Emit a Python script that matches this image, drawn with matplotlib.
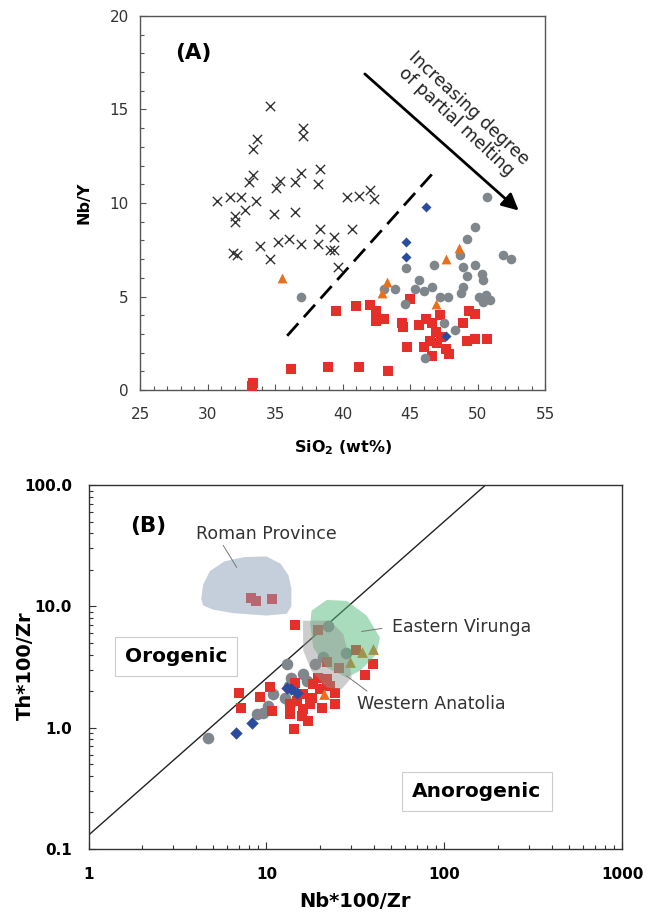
import matplotlib
matplotlib.use('Agg')
import matplotlib.pyplot as plt
from matplotlib.ticker import MultipleLocator, LogLocator, NullFormatter
import numpy as np

# ---------------- panel A data (SiO2 vs Nb/Y) ----------------
cross_sio2 = [34.6, 37.1, 37.1, 33.7, 33.4, 30.7, 31.7, 32.5, 32.0, 32.8, 33.6, 33.1, 35.1, 35.4,
              36.5, 36.9, 38.2, 38.3, 34.9, 36.5, 40.3, 41.2, 42.0, 42.3, 38.3, 39.4, 40.7, 33.9,
              35.2, 36.0, 36.9, 38.2, 39.1, 39.4, 31.9, 32.2, 34.6, 39.7, 32.0, 33.4]
cross_nby = [15.2, 14.0, 13.6, 13.4, 12.9, 10.1, 10.3, 10.3, 9.3, 9.6, 10.1, 11.1, 10.8, 11.2,
             11.1, 11.6, 11.0, 11.8, 9.4, 9.5, 10.3, 10.4, 10.7, 10.2, 8.6, 8.2, 8.6, 7.7,
             7.9, 8.1, 7.8, 7.8, 7.5, 7.5, 7.3, 7.2, 7.0, 6.6, 9.0, 11.5]

grey_sio2 = [50.7, 49.8, 49.2, 51.9, 52.5, 48.7, 46.8, 49.8, 48.9, 49.2, 50.3, 50.4, 44.7, 45.7,
             45.4, 46.6, 43.1, 43.9, 46.0, 48.9, 48.8, 47.2, 47.8, 50.1, 50.6, 50.9, 50.4, 44.6,
             36.9, 47.5, 48.3, 46.1]
grey_nby = [10.3, 8.7, 8.1, 7.2, 7.0, 7.2, 6.7, 6.7, 6.6, 6.1, 6.2, 5.9, 6.5, 5.9,
            5.4, 5.5, 5.4, 5.4, 5.3, 5.5, 5.2, 5.0, 5.0, 5.0, 5.1, 4.8, 4.7, 4.6,
            5.0, 3.6, 3.2, 1.7]

red_sio2 = [33.4, 33.3, 36.2, 38.9, 41.2, 43.4, 39.5, 41.0, 42.0, 42.5, 42.5, 43.1, 45.0, 44.4,
            44.5, 45.7, 46.2, 46.6, 47.2, 46.9, 47.3, 46.5, 46.0, 44.8, 47.0, 47.7, 47.9, 46.6,
            48.9, 49.4, 49.8, 49.2, 49.8, 50.7]
red_nby = [0.4, 0.2, 1.1, 1.25, 1.25, 1.0, 4.2, 4.5, 4.55, 4.2, 3.7, 3.8, 4.85, 3.6,
           3.35, 3.5, 3.8, 3.6, 4.0, 3.1, 2.85, 2.6, 2.3, 2.3, 2.5, 2.2, 1.95, 1.8,
           3.6, 4.2, 4.05, 2.6, 2.75, 2.75]

tri_sio2 = [35.5, 43.3, 42.9, 46.9, 47.7, 48.6]
tri_nby = [6.0, 5.8, 5.2, 4.6, 7.0, 7.6]

dia_sio2 = [46.2, 44.7, 44.7, 47.7]
dia_nby = [9.8, 7.9, 7.1, 2.9]

divide_sio2 = [35.9, 46.7]
divide_nby = [2.9, 11.6]

# ---------------- panel B data (Nb*100/Zr vs Th*100/Zr) ----------------
b_grey_nb = [22.3, 20.9, 28.0, 18.7, 13.0, 13.8, 16.1, 16.8, 13.3, 10.9, 12.7, 13.6, 10.2, 9.6, 8.8, 4.7]
b_grey_th = [6.92, 3.84, 4.09, 3.34, 3.34, 2.59, 2.76, 2.43, 2.21, 1.88, 1.77, 1.56, 1.51, 1.33, 1.29, 0.82]

b_red_nb = [14.5, 19.4, 22.0, 25.6, 31.7, 39.8, 35.8, 19.5, 21.8, 18.3, 14.5, 10.5, 7.03, 9.2,
            7.16, 10.7, 16.1, 17.9, 24.3, 24.3, 20.4, 17.6, 16.1, 13.6, 15.8, 17.2, 14.3, 14.8,
            13.6, 20.0, 22.7, 8.15, 8.73, 10.7]
b_red_th = [7.06, 6.42, 3.51, 3.13, 4.39, 3.34, 2.73, 2.59, 2.51, 2.28, 2.35, 2.17, 1.95, 1.79,
            1.44, 1.37, 1.88, 1.77, 1.95, 1.56, 1.46, 1.56, 1.42, 1.29, 1.25, 1.14, 0.98, 1.66,
            1.56, 2.07, 2.21, 11.7, 11.1, 11.6]

b_dia_nb = [13.1, 14.8, 13.8, 8.26, 6.74]
b_dia_th = [2.14, 1.95, 2.07, 1.10, 0.90]

b_tri_nb = [21.0, 29.5, 34.3, 39.5]
b_tri_th = [1.88, 3.45, 4.17, 4.44]

roman_nb = [4.3, 4.4, 4.8, 5.8, 7.5, 10.0, 12.0, 13.3, 13.8, 13.8, 13.0, 10.0, 6.5, 5.0, 4.4]
roman_th = [11.5, 15.0, 19.5, 23.5, 25.5, 25.8, 22.5, 18.0, 14.0, 10.0, 8.7, 8.4, 8.8, 9.4, 10.2]

virunga_nb = [17.9, 21.8, 28.2, 36.6, 43.4, 41.6, 33.5, 28.2, 21.8, 18.3, 17.6]
virunga_th = [9.2, 11.3, 11.1, 8.38, 5.54, 4.04, 2.94, 2.59, 3.13, 4.58, 7.14]

anatolia_nb = [16.0, 22.7, 27.0, 28.8, 30.1, 26.4, 21.8, 17.9, 16.1]
anatolia_th = [7.62, 7.62, 5.9, 4.04, 2.59, 2.07, 2.14, 2.94, 4.31]

boundary_nb = [1, 170]
boundary_th = [0.13, 100]

RED = '#e52f28'
GREY = '#80878c'
BLUE = '#2b4b9e'
ORANGE = '#e8701c'

plt.rcParams['font.family'] = ['DejaVu Sans']
fig = plt.figure(figsize=(6.47, 9.14), dpi=100)

# ================= panel A =================
ax1 = fig.add_axes([0.2164, 0.5733, 0.6260, 0.4092])
ax1.scatter(cross_sio2, cross_nby, marker='x', s=45, c='#333333', linewidths=1.0, zorder=3)
ax1.scatter(red_sio2, red_nby, marker='s', s=48, c=RED, linewidths=0, zorder=3)
ax1.scatter(grey_sio2, grey_nby, marker='o', s=48, c=GREY, linewidths=0, zorder=4)
ax1.scatter(tri_sio2, tri_nby, marker='^', s=50, c=ORANGE, linewidths=0, zorder=5)
ax1.scatter(dia_sio2, dia_nby, marker='D', s=26, c=BLUE, linewidths=0, zorder=5)
ax1.plot(divide_sio2, divide_nby, color='black', lw=2, dashes=(6, 3), zorder=2)

ax1.annotate('', xy=(53.2, 9.5), xytext=(41.5, 17.0),
             arrowprops=dict(arrowstyle='-|>', color='black', lw=2, mutation_scale=25))
ax1.text(48.9, 14.7, 'Increasing degree\nof partial melting', rotation=-43,
         rotation_mode='anchor', ha='center', va='center', fontsize=12.5,
         linespacing=1.0, color='#222222')
ax1.text(27.6, 18.0, '(A)', fontsize=15.5, fontweight='bold', ha='left', va='center')

ax1.set_xlim(25, 55)
ax1.set_ylim(0, 20)
ax1.xaxis.set_major_locator(MultipleLocator(5))
ax1.xaxis.set_minor_locator(MultipleLocator(1))
ax1.yaxis.set_major_locator(MultipleLocator(5))
ax1.yaxis.set_minor_locator(MultipleLocator(1))
ax1.tick_params(which='both', direction='in', top=False, right=False, color='#555555',
                labelsize=11, labelcolor='#333333')
ax1.tick_params(which='major', length=4, width=0.8)
ax1.tick_params(which='minor', length=3, width=0.8)
ax1.tick_params(axis='x', which='both', pad=12)
ax1.tick_params(axis='y', which='both', pad=8)
for sp in ax1.spines.values():
    sp.set_color('#555555')
    sp.set_linewidth(1.0)
ax1.set_xlabel('SiO$_\\mathbf{2}$ (wt%)', fontsize=11.5, fontweight='bold')
ax1.set_ylabel('Nb/Y', fontsize=11.5, fontweight='bold')
ax1.xaxis.set_label_coords(0.501, -0.13)
ax1.yaxis.set_label_coords(-0.119, 0.5)

# ================= panel B =================
ax2 = fig.add_axes([0.1368, 0.0711, 0.8253, 0.3982])
ax2.set_xscale('log')
ax2.set_yscale('log')
ax2.plot(boundary_nb, boundary_th, color='#222222', lw=1.0, zorder=2)
ax2.scatter(b_grey_nb, b_grey_th, marker='o', s=70, c=GREY, linewidths=0, zorder=3)
ax2.scatter(b_red_nb, b_red_th, marker='s', s=55, c=RED, linewidths=0, zorder=4)
ax2.scatter(b_dia_nb, b_dia_th, marker='D', s=40, c=BLUE, linewidths=0, zorder=5)
ax2.scatter(b_tri_nb, b_tri_th, marker='^', s=60, c=ORANGE, linewidths=0, zorder=5)

ax2.fill(roman_nb, roman_th, color='#8d9fb8', alpha=0.5, lw=0, zorder=6)
ax2.fill(virunga_nb, virunga_th, color='#55b97d', alpha=0.5, lw=0, zorder=6)
ax2.fill(anatolia_nb, anatolia_th, color='#929292', alpha=0.45, lw=0, zorder=6)

ax2.text(10.0, 39.6, 'Roman Province', fontsize=12.5, ha='center', va='center', color='#333333')
ax2.plot([5.72, 6.8], [31.7, 21.0], color='#777777', lw=0.7, zorder=7)
ax2.text(125, 6.7, 'Eastern Virunga', fontsize=12.5, ha='center', va='center', color='#333333')
ax2.plot([34.3, 44.4], [6.21, 6.58], color='#777777', lw=0.7, zorder=7)
ax2.text(84.8, 1.56, 'Western Anatolia', fontsize=12.5, ha='center', va='center', color='#333333')
ax2.plot([28.2, 36.6], [2.67, 2.01], color='#777777', lw=0.7, zorder=7)

box = dict(boxstyle='square,pad=0.5', facecolor='white', edgecolor='#cccccc', lw=0.8)
ax2.text(3.1, 3.88, 'Orogenic', fontsize=14.5, fontweight='bold', ha='center', va='center',
         bbox=box, zorder=8)
ax2.text(152, 0.30, 'Anorogenic', fontsize=14.5, fontweight='bold', ha='center', va='center',
         bbox=box, zorder=8)
ax2.text(1.72, 46.0, '(B)', fontsize=15.5, fontweight='bold', ha='left', va='center')

ax2.set_xlim(1, 1000)
ax2.set_ylim(0.1, 100)
ax2.set_xticks([1, 10, 100, 1000], ['1', '10', '100', '1000'])
ax2.set_yticks([0.1, 1, 10, 100], ['0.1', '1.0', '10.0', '100.0'])
ax2.xaxis.set_minor_locator(LogLocator(base=10, subs=np.arange(2, 10)))
ax2.yaxis.set_minor_locator(LogLocator(base=10, subs=np.arange(2, 10)))
ax2.xaxis.set_minor_formatter(NullFormatter())
ax2.yaxis.set_minor_formatter(NullFormatter())
ax2.tick_params(which='both', direction='in', top=False, right=False, color='#333333',
                labelsize=11)
ax2.tick_params(which='major', length=5, width=0.8)
ax2.tick_params(which='minor', length=3, width=0.8)
ax2.tick_params(axis='x', which='both', pad=13)
ax2.tick_params(axis='y', which='both', pad=12)
for lab in ax2.get_xticklabels() + ax2.get_yticklabels():
    lab.set_fontweight('bold')
for sp in ax2.spines.values():
    sp.set_color('#333333')
    sp.set_linewidth(1.0)
ax2.set_xlabel('Nb*100/Zr', fontsize=14, fontweight='bold')
ax2.set_ylabel('Th*100/Zr', fontsize=14, fontweight='bold')
ax2.xaxis.set_label_coords(0.499, -0.118)
ax2.yaxis.set_label_coords(-0.10, 0.505)

fig.savefig('out.png', dpi=100)
